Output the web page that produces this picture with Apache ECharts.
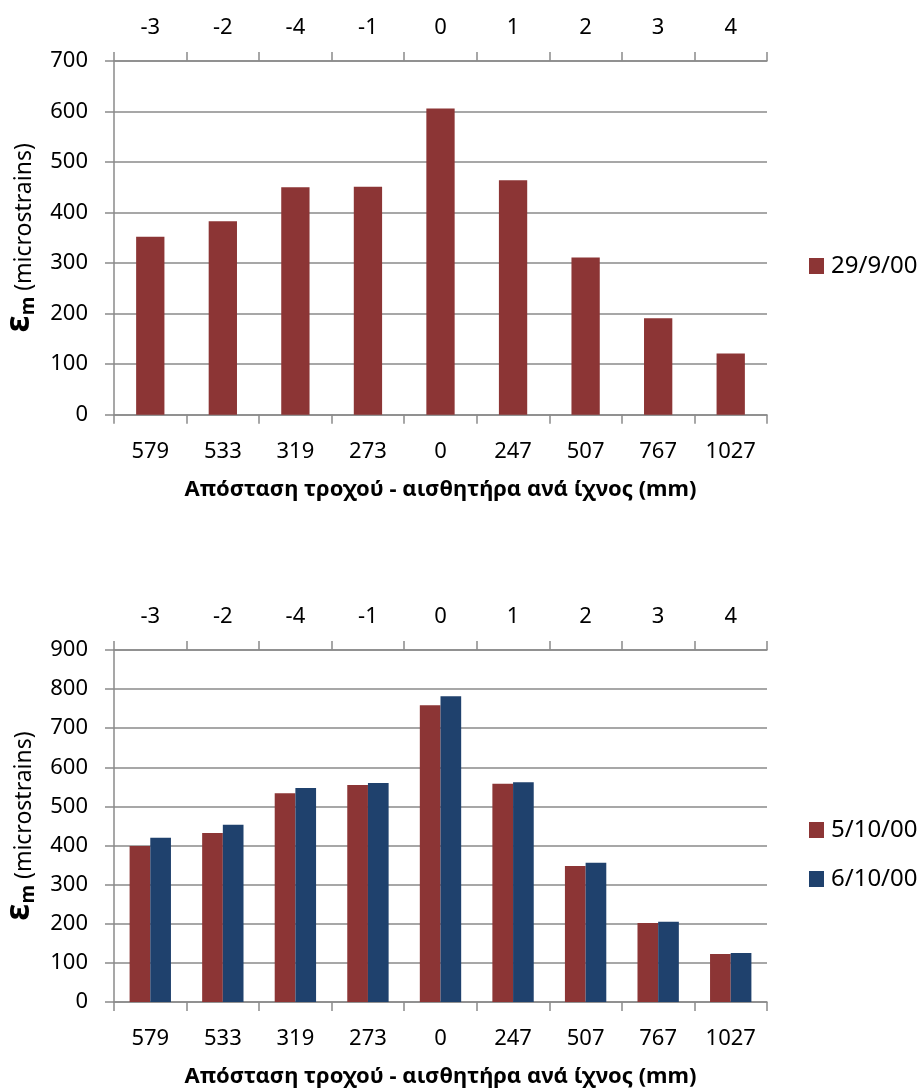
<!DOCTYPE html>
<html>
<head>
<meta charset="utf-8">
<script src="https://cdn.jsdelivr.net/npm/echarts@6/dist/echarts.min.js"></script>
<style>
html,body{margin:0;padding:0;background:#fff;}
#c{width:918px;height:1088px;}
</style>
</head>
<body>
<div id="c"></div>
<script>
// ---- data ----
const distances = ['579','533','319','273','0','247','507','767','1027'];
const sensorIds = ['-3','-2','-4','-1','0','1','2','3','4'];
const s_29_9_00 = [352, 383, 450, 451, 606, 464, 311, 191, 121];
const s_5_10_00 = [399, 432, 534, 555, 759, 558, 348, 202, 123];
const s_6_10_00 = [420, 453, 547, 560, 782, 562, 356, 205, 125];
const yTicks1 = {min: 0, max: 700, interval: 100};
const yTicks2 = {min: 0, max: 900, interval: 100};
const xTitle = 'Απόσταση τροχού - αισθητήρα ανά ίχνος (mm)';

const RED = '#8C3535', BLUE = '#1F416D', GRAY = '#8A8A8A';
const FONT = 'Noto Sans';

function bottomAxis(grid){
  return {
    type:'category', gridIndex:grid, position:'bottom', data:distances,
    axisLine:{show:true, lineStyle:{color:GRAY, width:1.5}},
    axisTick:{show:true, length:9, lineStyle:{color:GRAY, width:1.5}},
    axisLabel:{color:'#000', fontFamily:FONT, fontSize:22, margin:26},
    name:xTitle, nameLocation:'middle', nameGap:64,
    nameTextStyle:{color:'#000', fontFamily:FONT, fontSize:22, fontWeight:'bold'}
  };
}
function topAxis(grid){
  return {
    type:'category', gridIndex:grid, position:'top', data:sensorIds,
    axisLine:{show:true, lineStyle:{color:GRAY, width:1.5}},
    axisTick:{show:true, length:9, lineStyle:{color:GRAY, width:1.5}},
    axisLabel:{color:'#000', fontFamily:FONT, fontSize:22, margin:22}
  };
}
function yAxis(grid, t){
  return {
    type:'value', gridIndex:grid, min:t.min, max:t.max, interval:t.interval,
    axisLine:{show:true, lineStyle:{color:GRAY, width:1.5}},
    axisTick:{show:true, length:9, lineStyle:{color:GRAY, width:1.5}},
    splitLine:{show:true, lineStyle:{color:GRAY, width:1.5}},
    axisLabel:{color:'#000', fontFamily:FONT, fontSize:22, margin:26},
    name:'{e|ε}{m|m}{t| (microstrains)}',
    nameLocation:'middle', nameRotate:90, nameGap:76,
    nameTextStyle:{
      color:'#000', fontFamily:FONT,
      rich:{
        e:{fontSize:34, fontWeight:'bold', fontFamily:FONT, color:'#000', verticalAlign:'bottom', padding:[0,0,2,0]},
        m:{fontSize:19, fontWeight:'bold', fontFamily:FONT, color:'#000', verticalAlign:'bottom'},
        t:{fontSize:23, fontFamily:FONT, color:'#000', verticalAlign:'bottom', padding:[0,0,2,0]}
      }
    }
  };
}

const chart = echarts.init(document.getElementById('c'), null, {renderer:'canvas'});
chart.setOption({
  animation:false,
  backgroundColor:'#fff',
  textStyle:{fontFamily:FONT},
  grid:[
    {left:114, right:151, top:61, height:353.7, outerBoundsMode:'none', containLabel:false},
    {left:114, right:151, top:650, height:352, outerBoundsMode:'none', containLabel:false}
  ],
  xAxis:[bottomAxis(0), topAxis(0), bottomAxis(1), topAxis(1)],
  yAxis:[yAxis(0, yTicks1), yAxis(1, yTicks2)],
  legend:[
    {data:['29/9/00'], orient:'vertical', left:809, top:254, padding:0, itemWidth:15, itemHeight:16, itemGap:25,
     textStyle:{color:'#000', fontFamily:FONT, fontSize:24, padding:[0,0,0,2]}, icon:'rect'},
    {data:['5/10/00','6/10/00'], orient:'vertical', left:809, top:818, padding:0, itemWidth:15, itemHeight:16, itemGap:25,
     textStyle:{color:'#000', fontFamily:FONT, fontSize:24, padding:[0,0,0,2]}, icon:'rect'}
  ],
  series:[
    {name:'29/9/00', type:'bar', xAxisIndex:0, yAxisIndex:0, data:s_29_9_00,
     itemStyle:{color:RED}, barCategoryGap:'61%'},
    {name:'5/10/00', type:'bar', xAxisIndex:2, yAxisIndex:1, data:s_5_10_00,
     itemStyle:{color:RED}, barGap:'0%', barCategoryGap:'43%'},
    {name:'6/10/00', type:'bar', xAxisIndex:2, yAxisIndex:1, data:s_6_10_00,
     itemStyle:{color:BLUE}, barGap:'0%', barCategoryGap:'43%'}
  ]
});
</script>
</body>
</html>
